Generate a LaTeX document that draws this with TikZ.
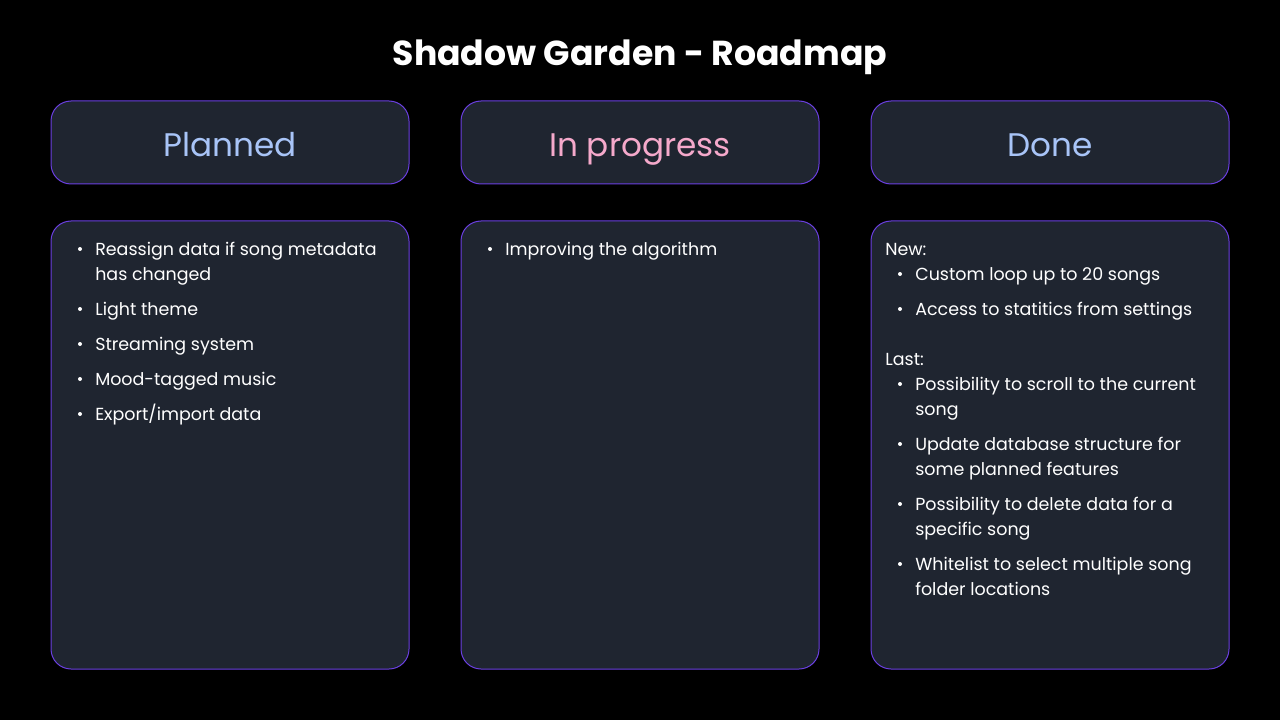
\documentclass[tikz,border=0pt]{standalone}
\usepackage{fontspec}
\setmainfont{Poppins}
\definecolor{cardfill}{HTML}{1F2530}
\definecolor{cardline}{HTML}{6A3FE0}
\definecolor{headblue}{HTML}{A8C4F7}
\definecolor{headpink}{HTML}{F5A9CB}
\tikzset{
  card/.style={draw=cardline, fill=cardfill, line width=0.75pt, rounded corners=15pt},
  head/.style={font=\fontsize{24.5}{28}\selectfont, inner sep=0pt, anchor=base},
  entry/.style={anchor=base west, text=white, inner sep=0pt,
    font=\fontsize{13.1}{18.75}\selectfont},
  dot/.style={circle, fill=white, inner sep=0pt, minimum size=3pt}
}
\newcommand{\itemline}[4]{% name, x, baseline y, text
  \node[entry] (#1) at (#2,#3) {\begin{tabular}[t]{@{}l@{}}#4\end{tabular}};
  \node[dot] (#1b) at (#2-15,#3-6) {};
}
\begin{document}
\begin{tikzpicture}[x=0.75pt,y=0.75pt,yscale=-1,xscale=1]
%background
\fill[black] (0,0) rectangle (1280,720);
\useasboundingbox (0,0) rectangle (1280,720);

% Title
\node[text=white, font=\fontsize{26}{32}\selectfont\bfseries, inner sep=0pt, anchor=base] (title) at (640,66) {Shadow Garden - Roadmap};

%Header cards
\draw[card] (51,101) rectangle (409,184);
\draw[card] (461,101) rectangle (819,184);
\draw[card] (871,101) rectangle (1229,184);
\node[head, text=headblue] (planned) at (230,157) {Planned};
\node[head, text=headpink] (progress) at (640,157) {In progress};
\node[head, text=headblue] (done) at (1050,157) {Done};

%Body cards
\draw[card] (51,221) rectangle (409,669);
\draw[card] (461,221) rectangle (819,669);
\draw[card] (871,221) rectangle (1229,669);

% Planned
\itemline{p1}{95}{255}{Reassign data if song metadata\\has changed}
\itemline{p2}{95}{315}{Light theme}
\itemline{p3}{95}{350}{Streaming system}
\itemline{p4}{95}{385}{Mood-tagged music}
\itemline{p5}{95}{420}{Export/import data}

% In progress
\itemline{g1}{505}{255}{Improving the algorithm}

% Done
\node[entry] (new) at (885,255) {New:};
\itemline{d1}{915}{280}{Custom loop up to 20 songs}
\itemline{d2}{915}{315}{Access to statitics from settings}
\node[entry] (last) at (885,365) {Last:};
\itemline{d3}{915}{390}{Possibility to scroll to the current\\song}
\itemline{d4}{915}{450}{Update database structure for\\some planned features}
\itemline{d5}{915}{510}{Possibility to delete data for a\\specific song}
\itemline{d6}{915}{570}{Whitelist to select multiple song\\folder locations}

\end{tikzpicture}
\end{document}
